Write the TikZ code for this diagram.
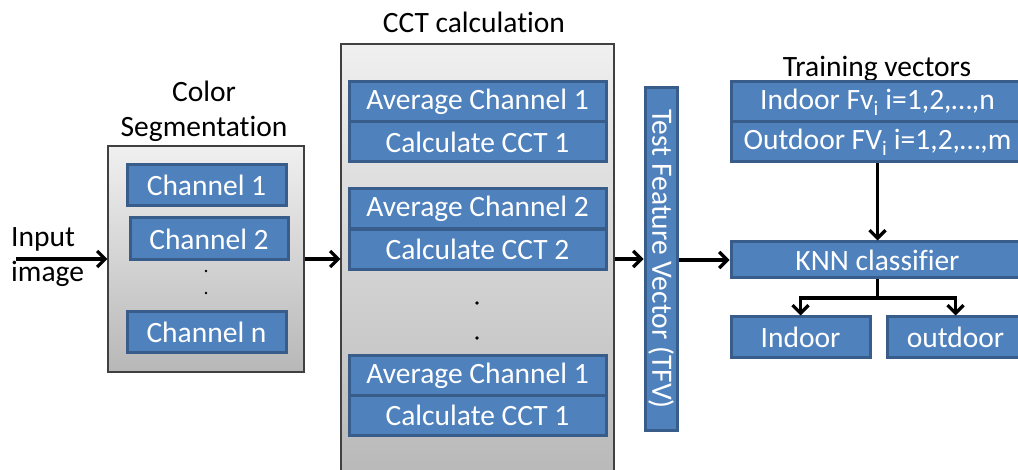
\documentclass[tikz,border=0pt]{standalone}
\usepackage{fontspec}
\setmainfont{Carlito}[Ligatures=NoCommon]
\usetikzlibrary{arrows.meta}
\definecolor{boxblue}{HTML}{4F81BD}
\definecolor{boxedge}{HTML}{385D8A}
\definecolor{grayedge}{HTML}{404040}
\tikzset{
  bluebox/.style={draw=boxedge, fill=boxblue, line width=3pt, text=white, inner sep=0pt, font=\fontsize{29.5}{34}\selectfont},
  graybox/.style={draw=grayedge, line width=1.3pt, top color=white!94!black, bottom color=white!72!black, inner sep=0pt},
  title/.style={font=\fontsize{29.5}{35}\selectfont, inner sep=0pt, align=center},
  arr/.style={line width=3.4pt, -{Straight Barb[length=8pt,width=16pt,line width=3.2pt]}},
  conn/.style={line width=3.4pt}
}
\begin{document}
\begin{tikzpicture}[x=1pt,y=-1pt]
\clip (0,0) rectangle (1018,470);
\fill[white] (0,0) rectangle (1018,470);
% grey containers
\node[graybox, minimum width=196, minimum height=226] (seg) at (206,259) {};
\node[graybox, minimum width=273, minimum height=440] (cct) at (477.5,264) {};
% titles
\node[title] (segt) at (204,111) {Color\\Segmentation};
\node[title] (cctt) at (474,22) {CCT calculation};
\node[title] (trt) at (877,69) {Training vectors};
\node[title, align=left, anchor=west] (inp) at (11,257) {Input\\image};
\coordinate (inpstart) at (16,259);
% segmentation channels
\node[bluebox, minimum width=159, minimum height=41] (ch1) at (206.5,185.5) {Channel 1};
\node[bluebox, minimum width=158, minimum height=42] (ch2) at (209,239) {Channel 2};
\node[bluebox, minimum width=159, minimum height=41] (chn) at (206.5,332.5) {Channel n};
\fill (206,271) circle (1.3);
\fill (206,293) circle (1.3);
% CCT blocks
\node[bluebox, minimum width=257, minimum height=40] (av1) at (477.5,102) {Average Channel 1};
\node[bluebox, minimum width=257, minimum height=40] (ca1) at (477.5,142) {Calculate CCT 1};
\node[bluebox, minimum width=257, minimum height=40] (av2) at (477.5,209) {Average Channel 2};
\node[bluebox, minimum width=257, minimum height=40] (ca2) at (477.5,249.5) {Calculate CCT 2};
\fill (477,303) circle (1.8);
\fill (477,338) circle (1.8);
\node[bluebox, minimum width=257, minimum height=40] (av3) at (477.5,375.5) {Average Channel 1};
\node[bluebox, minimum width=257, minimum height=40] (ca3) at (477.5,415.5) {Calculate CCT 1};
% TFV
\node[bluebox, minimum width=32, minimum height=342] (tfv) at (661,259) {\rotatebox{-90}{Test Feature Vector (TFV)}};
% right side
\node[bluebox, minimum width=293, minimum height=40] (infv) at (877.5,102) {Indoor Fv\textsubscript{i} i=1,2,\dots,n};
\node[bluebox, minimum width=293, minimum height=40] (outfv) at (877.5,142) {Outdoor FV\textsubscript{i} i=1,2,\dots,m};
\node[bluebox, minimum width=293, minimum height=36] (knn) at (877.5,260) {KNN classifier};
\node[bluebox, minimum width=139, minimum height=41] (inres) at (800.5,337.5) {Indoor};
\node[bluebox, minimum width=137, minimum height=41] (outres) at (955.5,337.5) {outdoor};
\coordinate (split) at (877.5,298);
% connectors
\draw[arr] (inpstart) -- (seg.west |- inpstart);
\draw[arr] (seg.east) -- (seg.east -| cct.west);
\draw[arr] (cct.east |- tfv.west) -- (tfv.west);
\draw[arr] (tfv.east |- knn.west) -- (knn.west);
\draw[arr] (outfv.south) -- (knn.north);
\draw[conn] (knn.south) -- (split);
\draw[arr] (split) -| (inres.north);
\draw[arr] (split) -| (outres.north);
\end{tikzpicture}
\end{document}
